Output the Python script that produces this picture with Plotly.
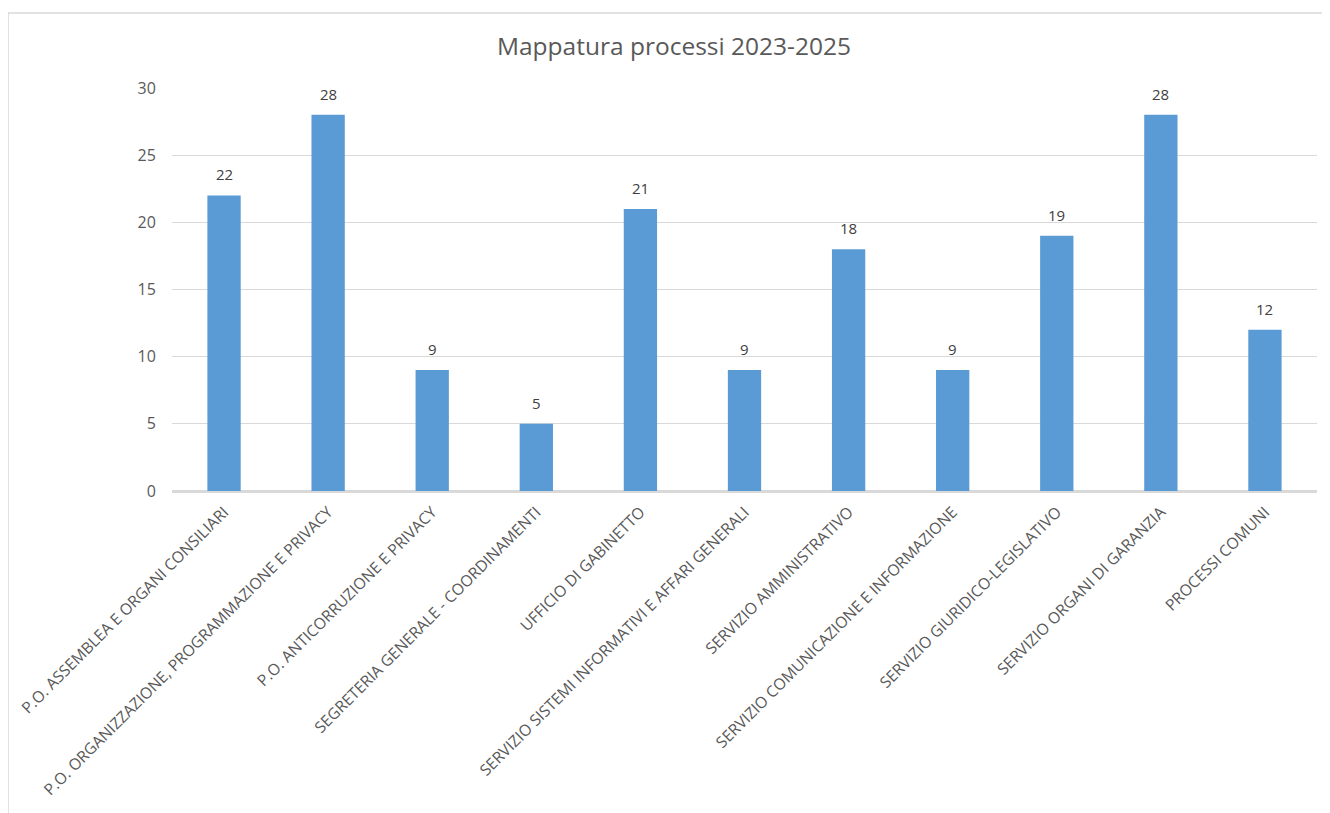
import plotly.graph_objects as go

categories = [
    "P.O. ASSEMBLEA E ORGANI CONSILIARI",
    "P.O. ORGANIZZAZIONE, PROGRAMMAZIONE E PRIVACY",
    "P.O. ANTICORRUZIONE E PRIVACY",
    "SEGRETERIA GENERALE - COORDINAMENTI",
    "UFFICIO DI GABINETTO",
    "SERVIZIO SISTEMI INFORMATIVI E AFFARI GENERALI",
    "SERVIZIO AMMINISTRATIVO",
    "SERVIZIO COMUNICAZIONE E INFORMAZIONE",
    "SERVIZIO GIURIDICO-LEGISLATIVO",
    "SERVIZIO ORGANI DI GARANZIA",
    "PROCESSI COMUNI",
]
values = [22, 28, 9, 5, 21, 9, 18, 9, 19, 28, 12]
y_ticks = [0, 5, 10, 15, 20, 25, 30]
title_text = "Mappatura processi 2023-2025"

W, H = 1330, 813
ml, mr, mt, mb = 164, 21, 80, 330
pw, ph = W - ml - mr, H - mt - mb

fig = go.Figure(go.Bar(
    x=categories, y=values,
    marker=dict(color="#5B9BD5", line=dict(width=0)),
    hoverinfo="x+y",
))

for c, v in zip(categories, values):
    fig.add_annotation(x=c, y=v, text=str(v), showarrow=False, yanchor="bottom",
                       yshift=9, font=dict(family="Open Sans", size=15, color="#404040"))

fig.update_layout(
    width=W, height=H,
    margin=dict(l=ml, r=mr, t=mt, b=mb),
    paper_bgcolor="white", plot_bgcolor="white",
    bargap=0.68,
    showlegend=False,
    font=dict(family="Open Sans", color="#595959"),
    title=dict(text=title_text, x=(674 - 8) / W, xanchor="center", y=1 - 38 / H, yanchor="middle",
               font=dict(family="Open Sans", size=24.5, color="#595959")),
    xaxis=dict(tickangle=-45, tickfont=dict(size=15.7, color="#595959"),
               showgrid=False, showline=True, linecolor="#d9d9d9", linewidth=1.5,
               ticks="outside", ticklen=4, tickcolor="rgba(0,0,0,0)", automargin=False),
    yaxis=dict(range=[0, 30], tickvals=y_ticks, tickfont=dict(size=16, color="#595959"),
               showgrid=True, gridcolor="#d9d9d9", gridwidth=1.2, zeroline=True,
               zerolinecolor="#d9d9d9", zerolinewidth=1.5, showline=False,
               ticks="outside", ticklen=12, tickcolor="rgba(0,0,0,0)", automargin=False),
    shapes=[dict(type="rect", xref="paper", yref="paper",
                 x0=(0 - ml) / pw, x1=(1340 - ml) / pw,
                 y0=-(830 - (H - mb)) / ph,
                 y1=(H - mb - 5) / ph,
                 line=dict(color="#d9d9d9", width=1.5), fillcolor="rgba(0,0,0,0)", layer="below")],
)

fig.write_html("out.html")
